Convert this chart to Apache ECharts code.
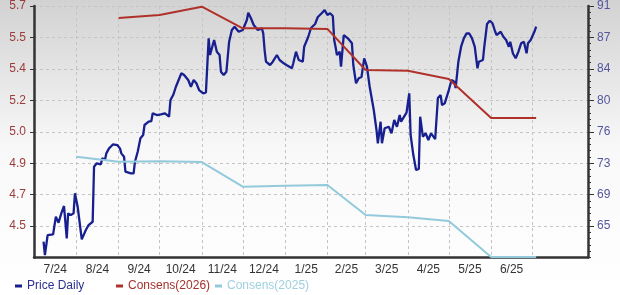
<!DOCTYPE html>
<html><head><meta charset="utf-8">
<script src="https://cdn.jsdelivr.net/npm/echarts@6/dist/echarts.min.js"></script>
<style>html,body{margin:0;padding:0;background:#fff}#c{width:620px;height:295px}</style>
</head><body><div id="c"></div>
<script>
const priceDates = [
'2024-07-08','2024-07-09','2024-07-11','2024-07-12','2024-07-15','2024-07-17','2024-07-19','2024-07-21','2024-07-23','2024-07-25',
'2024-07-26','2024-07-28','2024-07-30','2024-07-31','2024-08-02','2024-08-05','2024-08-08','2024-08-10','2024-08-13','2024-08-14',
'2024-08-16','2024-08-19','2024-08-20','2024-08-22','2024-08-23','2024-08-25','2024-08-28','2024-08-31','2024-09-02','2024-09-03',
'2024-09-05','2024-09-06','2024-09-10','2024-09-12','2024-09-13','2024-09-15','2024-09-17','2024-09-19','2024-09-20','2024-09-23',
'2024-09-25','2024-09-26','2024-09-29','2024-10-02','2024-10-05','2024-10-08','2024-10-09','2024-10-11','2024-10-13','2024-10-15',
'2024-10-17','2024-10-19','2024-10-22','2024-10-24','2024-10-26','2024-10-28','2024-10-30','2024-11-02','2024-11-04','2024-11-06',
'2024-11-07','2024-11-09','2024-11-10','2024-11-12','2024-11-14','2024-11-15','2024-11-17','2024-11-18','2024-11-19','2024-11-21',
'2024-11-23','2024-11-25','2024-11-28','2024-11-29','2024-12-01','2024-12-04','2024-12-05','2024-12-07','2024-12-09','2024-12-10',
'2024-12-12','2024-12-15','2024-12-16','2024-12-17','2024-12-18','2024-12-21','2024-12-23','2024-12-26','2024-12-28','2024-12-31',
'2025-01-02','2025-01-06','2025-01-07','2025-01-09','2025-01-11','2025-01-14','2025-01-15','2025-01-18','2025-01-20','2025-01-23',
'2025-01-25','2025-01-28','2025-01-30','2025-02-01','2025-02-03','2025-02-05','2025-02-06','2025-02-07','2025-02-08','2025-02-10',
'2025-02-11','2025-02-13','2025-02-16','2025-02-19','2025-02-20','2025-02-22','2025-02-24','2025-02-26','2025-02-28','2025-03-02',
'2025-03-04','2025-03-07','2025-03-09','2025-03-10','2025-03-12','2025-03-13','2025-03-15','2025-03-18','2025-03-20','2025-03-22',
'2025-03-24','2025-03-26','2025-03-27','2025-03-31','2025-04-02','2025-04-03','2025-04-05','2025-04-07','2025-04-09','2025-04-10',
'2025-04-12','2025-04-14','2025-04-16','2025-04-18','2025-04-21','2025-04-23','2025-04-25','2025-04-26','2025-04-28','2025-05-01',
'2025-05-03','2025-05-05','2025-05-06','2025-05-08','2025-05-09','2025-05-10','2025-05-12','2025-05-14','2025-05-16','2025-05-18',
'2025-05-20','2025-05-22','2025-05-23','2025-05-26','2025-05-27','2025-05-29','2025-05-31','2025-06-02','2025-06-04','2025-06-05',
'2025-06-08','2025-06-10','2025-06-12','2025-06-14','2025-06-15','2025-06-17','2025-06-19','2025-06-21','2025-06-23','2025-06-25',
'2025-06-27','2025-06-28','2025-06-30','2025-07-01','2025-07-03','2025-07-04'
];
const priceValues = [
63.15,61.58,63.94,63.74,64.02,66.10,65.39,66.50,67.37,63.55,
66.50,66.30,66.50,68.87,67.28,63.43,64.53,65.12,65.51,72.01,
72.41,72.29,73.00,72.80,73.59,74.18,74.66,74.57,74.18,73.59,
73.19,71.42,71.23,71.23,72.60,73.78,75.37,75.76,76.94,77.33,
77.41,78.32,78.12,78.20,78.32,77.92,79.89,80.48,81.46,82.26,
83.05,82.85,82.26,81.46,82.26,81.87,81.07,80.68,80.80,87.18,
85.21,86.39,86.98,85.60,85.21,83.24,82.85,82.65,83.24,86.78,
88.16,88.55,87.96,87.93,88.16,89.35,90.21,89.55,88.75,88.55,
88.16,88.36,87.77,85.80,84.42,84.03,84.42,85.21,84.62,84.23,
84.03,83.64,84.23,85.60,84.62,84.42,86.19,87.37,88.40,88.87,
89.70,90.17,90.53,89.94,90.14,89.82,86.98,86.16,85.21,85.60,
83.83,87.57,87.18,86.59,84.03,81.87,82.46,82.61,84.82,83.83,
81.46,78.71,76.35,74.78,77.33,74.78,76.55,76.74,75.96,77.53,
76.74,78.12,77.33,78.41,80.68,75.76,73.39,71.62,71.74,77.92,
75.56,75.96,75.17,75.96,75.28,80.13,80.48,79.30,79.50,81.07,
82.26,82.05,81.31,84.42,84.62,86.19,87.18,87.77,87.75,87.18,
86.19,83.64,84.42,84.62,86.19,88.87,89.26,88.96,87.96,87.57,
87.96,87.37,86.98,86.19,86.78,85.39,84.82,85.60,86.59,86.78,
85.41,86.59,86.98,87.18,88.08,88.55
];
const cons2026Dates = ['2024-09-01','2024-10-01','2024-11-01','2024-12-01','2025-01-01','2025-02-01','2025-03-01','2025-04-01','2025-05-01','2025-06-01','2025-07-04'];
const cons2026Values = [5.635,5.651,5.696,5.578,5.578,5.575,5.351,5.347,5.302,5.089,5.089];
const cons2025Dates = ['2024-08-01','2024-09-01','2024-10-01','2024-11-01','2024-12-01','2025-01-01','2025-02-01','2025-03-01','2025-04-01','2025-05-01','2025-06-01','2025-07-04'];
const cons2025Values = [4.878,4.851,4.853,4.849,4.715,4.720,4.724,4.560,4.548,4.527,4.331,4.331];
const xTickLabels = ['7/24','8/24','9/24','10/24','11/24','12/24','1/25','2/25','3/25','4/25','5/25','6/25'];
const leftTickLabels = ['4.5','4.7','4.9','5.0','5.2','5.4','5.5','5.7'];
const rightTickLabels = ['65','69','73','76','80','84','87','91'];
const leftLow = 4.5, leftHigh = 5.7;
const rightLow = 65, rightHigh = 91;

const toTime = s => { const p = s.split('-').map(Number); return new Date(p[0], p[1] - 1, p[2]).getTime(); };
const leftStep = (leftHigh - leftLow) / (leftTickLabels.length - 1);
const leftMin = leftLow - leftStep;
const leftTicks = leftTickLabels.map((_, i) => leftLow + i * leftStep);
const rightStep = (rightHigh - rightLow) / (rightTickLabels.length - 1);
const rightMin = rightLow - rightStep;
const rightTicks = rightTickLabels.map((_, i) => rightLow + i * rightStep);
const rightMinor = [];
for (let k = 0; k <= (rightTickLabels.length) * 5; k++) rightMinor.push(rightMin + k * rightStep / 5);

const monthStart = i => new Date(2024, 6 + i, 1).getTime();
const tickVals = [];
for (let i = 1; i <= 12; i++) tickVals.push(monthStart(i));
const labelVals = [];
for (let i = 0; i < 12; i++) labelVals.push((monthStart(i) + monthStart(i + 1)) / 2);

const font = 'Liberation Sans, Arial, sans-serif';
const chart = echarts.init(document.getElementById('c'), null, {renderer: 'canvas'});
const legendBase = {orient: 'horizontal', top: 280, padding: 0, icon: 'rect', itemWidth: 7, itemHeight: 3, itemGap: 5, selectedMode: false,
  textStyle: {fontSize: 12, fontFamily: font}};
chart.setOption({
  animation: false,
  backgroundColor: {type: 'linear', x: 0, y: 0, x2: 0, y2: 1, colorStops: [
    {offset: 0, color: '#d2d2d2'}, {offset: 0.5, color: '#f8f8f8'}, {offset: 1, color: '#ffffff'}]},
  grid: {left: 34, right: 32, top: 6, bottom: 37.5, containLabel: false},
  legend: [
    Object.assign({}, legendBase, {left: 15, data: [{name: 'Price Daily', textStyle: {color: '#2b3190'}}]}),
    Object.assign({}, legendBase, {left: 116, data: [{name: 'Consens(2026)', textStyle: {color: '#a3322c'}}]}),
    Object.assign({}, legendBase, {left: 215, data: [{name: 'Consens(2025)', textStyle: {color: '#9fd0de'}}]})
  ],
  xAxis: {
    type: 'value', min: monthStart(0), max: new Date(2025, 7, 11).getTime(),
    axisLine: {show: true, onZero: false, lineStyle: {color: '#333', width: 2.5}},
    axisTick: {show: false, customValues: tickVals},
    splitLine: {show: true, lineStyle: {color: '#c4c4c4', type: [3, 3], width: 1}},
    axisLabel: {customValues: labelVals, margin: 6, color: '#333', fontSize: 12, fontFamily: font,
      formatter: v => { const d = new Date(v); return xTickLabels[(d.getFullYear() - 2024) * 12 + d.getMonth() - 6]; }}
  },
  yAxis: [
    {type: 'value', position: 'left', min: leftMin, max: leftHigh,
      axisLine: {show: true, onZero: false, lineStyle: {color: '#333', width: 2.5}},
      axisTick: {show: true, customValues: leftTicks, length: 4, lineStyle: {color: '#333'}},
      axisLabel: {customValues: leftTicks, margin: 8, color: '#9c3b3b', fontSize: 12, fontFamily: font,
        formatter: v => leftTickLabels[Math.round((v - leftLow) / leftStep)]},
      splitLine: {show: true, lineStyle: {color: '#c4c4c4', type: [3, 3], width: 1}}},
    {type: 'value', position: 'right', min: rightMin, max: rightHigh,
      axisLine: {show: true, onZero: false, lineStyle: {color: '#333', width: 2.5}},
      axisTick: {show: true, customValues: rightTicks, length: 6, lineStyle: {color: '#333'}},
      axisLabel: {customValues: rightTicks, margin: 9, color: '#55559c', fontSize: 12, fontFamily: font,
        formatter: v => rightTickLabels[Math.round((v - rightLow) / rightStep)]},
      splitLine: {show: false}},
    {type: 'value', position: 'right', min: rightMin, max: rightHigh,
      axisLine: {show: false},
      axisTick: {show: true, customValues: rightMinor, length: 3, lineStyle: {color: '#333'}},
      axisLabel: {show: false}, splitLine: {show: false}}
  ],
  series: [
    {name: 'Price Daily', type: 'line', yAxisIndex: 1, showSymbol: false, color: '#18208f',
      lineStyle: {color: '#18208f', width: 2.3}, data: priceDates.map((d, i) => [toTime(d), priceValues[i]])},
    {name: 'Consens(2026)', type: 'line', yAxisIndex: 0, showSymbol: false, color: '#b0312a',
      lineStyle: {color: '#b0312a', width: 2}, data: cons2026Dates.map((d, i) => [toTime(d), cons2026Values[i]])},
    {name: 'Consens(2025)', type: 'line', yAxisIndex: 0, showSymbol: false, color: '#93cadb',
      lineStyle: {color: '#93cadb', width: 2}, data: cons2025Dates.map((d, i) => [toTime(d), cons2025Values[i]])}
  ]
});
</script></body></html>
